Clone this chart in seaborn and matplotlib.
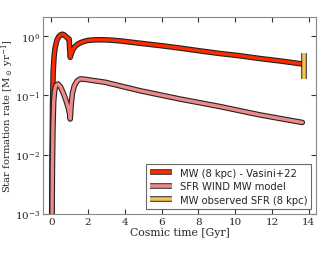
import numpy as np
import pandas as pd
import matplotlib
matplotlib.use("Agg")
import matplotlib.pyplot as plt
import matplotlib.patheffects as pe
import seaborn as sns

# --- data ---
t_mw = [0.02, 0.04, 0.07, 0.1, 0.15, 0.2, 0.3, 0.4, 0.5, 0.6, 0.7, 0.8, 0.9, 0.97,
        1.0, 1.03, 1.08, 1.15, 1.25, 1.4, 1.6, 1.8, 2.0, 2.4, 2.8, 3.2, 3.8, 4.83,
        6.0, 7.0, 8.0, 9.17, 10.2, 11.34, 12.5, 13.65]
sfr_mw = [0.0008, 0.01, 0.08, 0.25, 0.45, 0.62, 0.85, 0.98, 1.05, 1.08, 1.05, 0.98,
          0.93, 0.89, 0.6, 0.44, 0.5, 0.57, 0.65, 0.72, 0.78, 0.82, 0.85, 0.87, 0.87,
          0.86, 0.83, 0.76, 0.69, 0.63, 0.57, 0.51, 0.47, 0.42, 0.38, 0.34]

t_wind = [0.04, 0.06, 0.09, 0.13, 0.18, 0.25, 0.36, 0.5, 0.65, 0.8, 0.92, 0.99,
          1.03, 1.08, 1.15, 1.25, 1.4, 1.57, 1.8, 2.1, 2.93, 4.83, 7.0, 9.17,
          11.34, 13.65]
sfr_wind = [0.0008, 0.006, 0.03, 0.08, 0.12, 0.148, 0.156, 0.14, 0.11, 0.082,
            0.062, 0.05, 0.04, 0.07, 0.11, 0.145, 0.175, 0.19, 0.188, 0.182,
            0.167, 0.12, 0.087, 0.065, 0.047, 0.035]

t_obs = [13.72, 13.72]
sfr_obs = [0.19, 0.52]

labels = ["MW (8 kpc) - Vasini+22", "SFR WIND MW model", "MW observed SFR (8 kpc)"]
colors = ["#ff2a00", "#f08a8a", "#f6c150"]

sns.set_theme(style="ticks")
plt.rcParams["font.family"] = ["DejaVu Serif"]
plt.rcParams["mathtext.fontset"] = "dejavuserif"

fig = plt.figure(figsize=(3.31, 2.55), dpi=100)
ax = fig.add_axes([0.13, 0.157, 0.825, 0.772])

stroke = [pe.Stroke(linewidth=4.0, foreground="#222222"), pe.Normal()]

df_mw = pd.DataFrame({"t": t_mw, "sfr": sfr_mw})
df_w = pd.DataFrame({"t": t_wind, "sfr": sfr_wind})
sns.lineplot(data=df_mw, x="t", y="sfr", ax=ax, color=colors[0], lw=2.4,
             sort=False, estimator=None, path_effects=stroke, label=labels[0])
sns.lineplot(data=df_w, x="t", y="sfr", ax=ax, color=colors[1], lw=2.4,
             sort=False, estimator=None, path_effects=stroke, label=labels[1])
ax.plot(t_obs, sfr_obs, color=colors[2], lw=2.6, solid_capstyle="butt",
        path_effects=[pe.Stroke(linewidth=4.0, foreground="#222222"), pe.Normal()],
        label=labels[2])

ax.set_yscale("log")
ax.set_ylim(1e-3, 2.1)
ax.set_xlim(-0.45, 14.4)
ax.set_xticks([0, 2, 4, 6, 8, 10, 12, 14])
ax.set_yticks([1e-3, 1e-2, 1e-1, 1e0])
ax.minorticks_off()
ax.tick_params(direction="in", top=True, right=True, length=3.5, width=0.8,
               labelsize=7.5, pad=2, color="#333333")
for s in ax.spines.values():
    s.set_color("#888888")
    s.set_linewidth(0.8)

ax.set_xlabel("Cosmic time [Gyr]", fontsize=7.8, labelpad=1)
ax.set_ylabel(r"Star formation rate [M$_\odot$ yr$^{-1}$]", fontsize=7.2)
ax.yaxis.set_label_coords(-0.098, 0.5)

leg = ax.legend(loc="lower right", frameon=True, fancybox=False,
                handlelength=2.2, borderpad=0.4, labelspacing=0.35,
                prop={"family": "DejaVu Sans", "size": 7.2})
leg.get_frame().set_edgecolor("#444444")
leg.get_frame().set_linewidth(0.8)
for h in leg.get_lines():
    h.set_linewidth(2.6)
    h.set_solid_capstyle("butt")
    h.set_path_effects([pe.Stroke(linewidth=4.0, foreground="#222222"), pe.Normal()])

fig.savefig("out.png", dpi=100)
